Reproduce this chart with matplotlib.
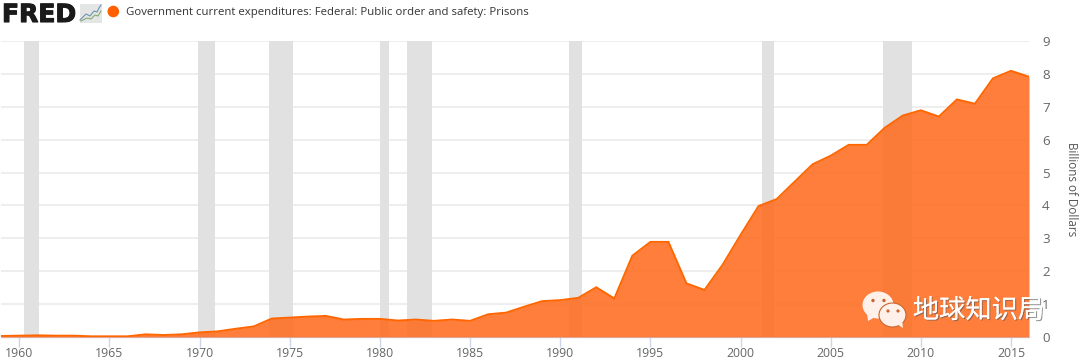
import matplotlib
matplotlib.use("Agg")
import matplotlib.pyplot as plt
import matplotlib.patheffects as pe
from matplotlib.patches import Ellipse, Polygon, Rectangle, Circle

years = list(range(1959, 2017))
values = [0.03, 0.04, 0.05, 0.04, 0.04, 0.02, 0.02, 0.02, 0.08, 0.06,
          0.08, 0.14, 0.17, 0.25, 0.32, 0.56, 0.59, 0.62, 0.64, 0.53,
          0.55, 0.55, 0.50, 0.53, 0.49, 0.53, 0.49, 0.69, 0.74, 0.92,
          1.09, 1.12, 1.19, 1.51, 1.17, 2.47, 2.89, 2.89, 1.63, 1.43,
          2.19, 3.10, 3.98, 4.19, 4.72, 5.25, 5.51, 5.84, 5.84, 6.36,
          6.73, 6.89, 6.70, 7.22, 7.09, 7.86, 8.09, 7.91]
rec_start = [1960.25, 1969.92, 1973.87, 1980.0, 1981.5, 1990.5, 2001.2, 2007.92]
rec_end = [1961.08, 1970.87, 1975.2, 1980.5, 1982.87, 1991.2, 2001.87, 2009.5]
x_ticks = list(range(1960, 2016, 5))
y_ticks = list(range(0, 10))
title = "Government current expenditures: Federal: Public order and safety: Prisons"
y_label = "Billions of Dollars"
watermark = "地球知识局"
ORANGE = "#FF6600"
W, H = 1080, 360

fig = plt.figure(figsize=(W / 100, H / 100), dpi=100, facecolor="white")
ax = fig.add_axes([1.3 / W, 1 - 337 / H, (1029 - 1.3) / W, (337 - 40.9) / H])
ax.set_xlim(1959, 2016)
ax.set_ylim(0, 9)
ax.set_facecolor("white")
for s, e in zip(rec_start, rec_end):
    ax.axvspan(s, e, color="#E1E1E1", lw=0, zorder=1)
ax.set_yticks(y_ticks)
ax.set_xticks(x_ticks)
ax.grid(axis="y", color="#EBEBEB", lw=1.2, zorder=2)
ax.set_axisbelow(True)
ax.fill_between(years, values, 0, color="#FF681A", alpha=0.85, lw=0, zorder=3)
ax.plot(years, values, color=ORANGE, lw=1.4, zorder=4, solid_joinstyle="miter", clip_on=True)
for side in ("top", "left", "right"):
    ax.spines[side].set_visible(False)
ax.spines["bottom"].set_color("#CCD6EB")
ax.spines["bottom"].set_linewidth(1.0)
ax.tick_params(axis="x", color="#CCD6EB", length=7, width=1, labelsize=8.8,
               labelcolor="#666666", pad=0.5)
ax.tick_params(axis="y", length=0, labelsize=9.6, labelcolor="#666666", pad=0,
               left=False, labelleft=False, right=False, labelright=True)
for lab in ax.get_xticklabels() + ax.get_yticklabels():
    lab.set_family("Open Sans")
for lab in ax.get_yticklabels():
    lab.set_horizontalalignment("center")
    lab.set_x(1.0165)

ov = fig.add_axes([0, 0, 1, 1], zorder=10)
ov.set_xlim(0, W)
ov.set_ylim(H, 0)
ov.axis("off")
ov.patch.set_alpha(0)

# header
ov.text(2, 22, "FRED", family="DejaVu Sans", weight="bold", fontsize=18, color="#1A1A1A",
        va="baseline", ha="left", path_effects=[pe.withStroke(linewidth=0.8, foreground="#1A1A1A")])
ov.add_patch(Rectangle((80, 4), 22, 19, fc="#E4E6E6", ec="none"))
ov.plot([80, 86, 90, 94, 97, 99, 101], [20, 14, 16, 11, 12, 8, 5], color="#6E90B0", lw=0.8)
ov.plot([81, 87, 91, 95, 98, 101], [21, 18, 19, 15, 16, 11], color="#86A874", lw=0.8)
ov.add_patch(Circle((113.3, 11.5), 5.8, fc="#FF5F00", ec="none"))
ov.text(126, 13, title, family="Open Sans", fontsize=8.2, color="#333333", va="center", ha="left")

# y-axis label
ov.text(1072, 189.5, y_label, family="Open Sans", fontsize=8.4, color="#555555", rotation=270,
        va="center", ha="center")

# watermark
BUB = "#FFF1E9"
ov.add_patch(Ellipse((878, 305), 31, 27, fc=BUB, ec="none"))
ov.add_patch(Polygon([[867, 313], [868, 321], [877, 316]], fc=BUB, ec="none"))
ov.add_patch(Ellipse((892.5, 315), 27, 24, fc=BUB, ec="#C9662F", lw=0.8))
ov.add_patch(Polygon([[897, 324], [903, 328], [902, 320]], fc=BUB, ec="none"))
for cx, cy, r in [(873, 300.5, 1.7), (884, 300.5, 1.7), (888, 311, 1.6), (898, 311, 1.6)]:
    ov.add_patch(Circle((cx, cy), r, fc="#C9662F", ec="none"))
ov.text(978.5, 310.5, watermark, family=["Noto Sans CJK SC", "DejaVu Sans"], fontsize=18.9, color="white",
        va="center", ha="center",
        path_effects=[pe.withSimplePatchShadow(offset=(0.8, -0.8), shadow_rgbFace="#555555", alpha=0.6), pe.Normal()])

fig.savefig("out.png", dpi=100, facecolor="white")
